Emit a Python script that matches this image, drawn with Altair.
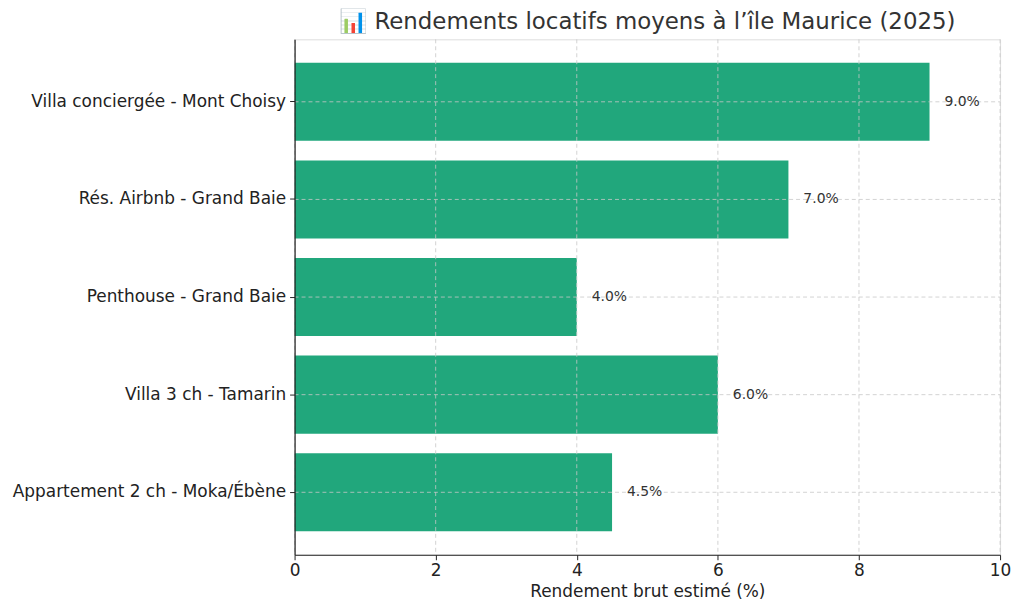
import altair as alt
import pandas as pd

categories = [
    "Villa conciergée - Mont Choisy",
    "Rés. Airbnb - Grand Baie",
    "Penthouse - Grand Baie",
    "Villa 3 ch - Tamarin",
    "Appartement 2 ch - Moka/Ébène",
]
values = [9.0, 7.0, 4.0, 6.0, 4.5]
x_ticks = [0, 2, 4, 6, 8, 10]

df = pd.DataFrame({"cat": categories, "val": values})
df["label"] = [f"{v:.1f}%" for v in values]

FONT = "DejaVu Sans"
GREEN = "#21a77c"
W = 709

y_enc = alt.Y(
    "cat:N",
    sort=categories,
    title=None,
    scale=alt.Scale(paddingInner=0.2, paddingOuter=0.24),
    axis=alt.Axis(
        labelFont=FONT, labelFontSize=17, labelColor="#222222", labelLimit=0,
        domainColor="#222222", domainWidth=1.2, tickColor="#222222",
        tickSize=5, labelPadding=4, grid=False, zindex=1,
    ),
)
x_scale = alt.Scale(domain=[0, 10], nice=False)

bars = alt.Chart(df).mark_bar(color=GREEN).encode(
    x=alt.X(
        "val:Q", scale=x_scale, title="Rendement brut estimé (%)",
        axis=alt.Axis(
            values=x_ticks, format="d", labelFlush=False,
            labelFont=FONT, labelFontSize=17, labelColor="#222222",
            titleFont=FONT, titleFontSize=17, titleFontWeight="normal",
            titleColor="#222222", titlePadding=5,
            domainColor="#222222", domainWidth=1.2, tickColor="#222222",
            tickSize=5, labelPadding=3, grid=False, zindex=1,
        ),
    ),
    y=y_enc,
)

vgrid = alt.Chart(pd.DataFrame({"t": x_ticks})).mark_rule(
    color="#c8c8c8", strokeDash=[4, 3], strokeWidth=0.8
).encode(x=alt.X("t:Q", scale=x_scale))

hgrid = alt.Chart(df).mark_rule(
    color="#c8c8c8", strokeDash=[4, 3], strokeWidth=0.8
).encode(y=alt.Y("cat:N", sort=categories), x=alt.value(0), x2=alt.value(W))

labels = alt.Chart(df).mark_text(
    align="left", baseline="middle", dx=15, font=FONT, fontSize=14, color="#333333"
).encode(
    x=alt.X("val:Q", scale=x_scale),
    y=alt.Y("cat:N", sort=categories),
    text="label:N",
)

chart = (
    alt.layer(bars, vgrid, hgrid, labels)
    .properties(
        width=W,
        height=518,
        title=alt.TitleParams(
            "📊 Rendements locatifs moyens à l’île Maurice (2025)",
            font=FONT, fontSize=23, fontWeight="normal", color="#333333",
            anchor="middle", offset=5,
        ),
        padding={"left": 4, "top": 1, "right": 5, "bottom": 5},
    )
    .configure_view(stroke=None)
    .configure(background="white")
)

chart.save("out.html", embed_options={"renderer": "svg", "actions": False})
